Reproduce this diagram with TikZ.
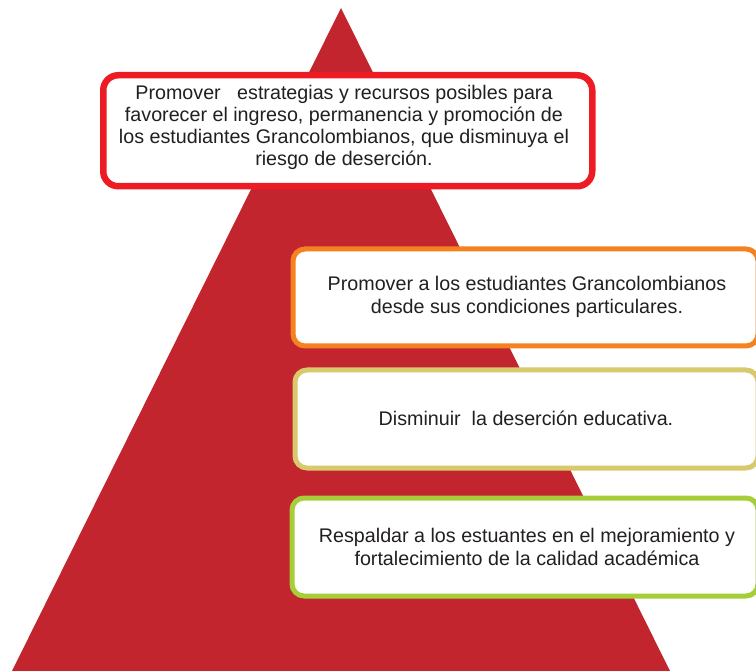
\documentclass[tikz,border=0pt]{standalone}
\usepackage{fontspec}
\setmainfont{Liberation Sans}
\definecolor{pyr}{HTML}{C3252F}
\definecolor{bred}{HTML}{ED1C24}
\definecolor{borange}{HTML}{F58220}
\definecolor{bkhaki}{HTML}{D8C96C}
\definecolor{bgreen}{HTML}{A6CE39}
\definecolor{txt}{HTML}{231F20}
\begin{document}
\begin{tikzpicture}[x=1pt,y=-1pt,
  boxshape/.style={draw,fill=white,rounded corners=12pt,inner sep=0pt,anchor=north west},
  boxtext/.style={text=txt,align=center,font=\fontsize{19.7pt}{22pt}\selectfont,inner sep=0pt}]
\useasboundingbox (0,0) rectangle (756,671);
\fill[pyr] (341,8) -- (670,671) -- (12,671) -- cycle;
% box 1
\node[boxshape,draw=bred,line width=6.5pt,rounded corners=15pt,minimum width=489pt,minimum height=111pt] (b1) at (100,72) {};
\node[boxtext] (t1) at (344,127) {Promover \ \ estrategias y recursos posibles para\\favorecer el ingreso, permanencia y promoción de\\los estudiantes Grancolombianos, que disminuya el\\riesgo de deserción.};
% box 2
\node[boxshape,draw=borange,line width=5pt,minimum width=465pt,minimum height=97pt] (b2) at (290.5,246.5) {};
\node[boxtext,font=\fontsize{19.7pt}{23pt}\selectfont] (t2) at (527,297) {Promover a los estudiantes Grancolombianos\\desde sus condiciones particulares.};
% box 3
\node[boxshape,draw=bkhaki,line width=5pt,minimum width=463pt,minimum height=98pt] (b3) at (292.5,367.5) {};
\node[boxtext] (t3) at (526,418) {Disminuir \ la deserción educativa.};
% box 4
\node[boxshape,draw=bgreen,line width=5pt,minimum width=466pt,minimum height=98pt] (b4) at (289.5,495.5) {};
\node[boxtext,font=\fontsize{19.7pt}{22.5pt}\selectfont] (t4) at (527,547) {Respaldar a los estuantes en el mejoramiento y\\fortalecimiento de la calidad académica};
\end{tikzpicture}
\end{document}
